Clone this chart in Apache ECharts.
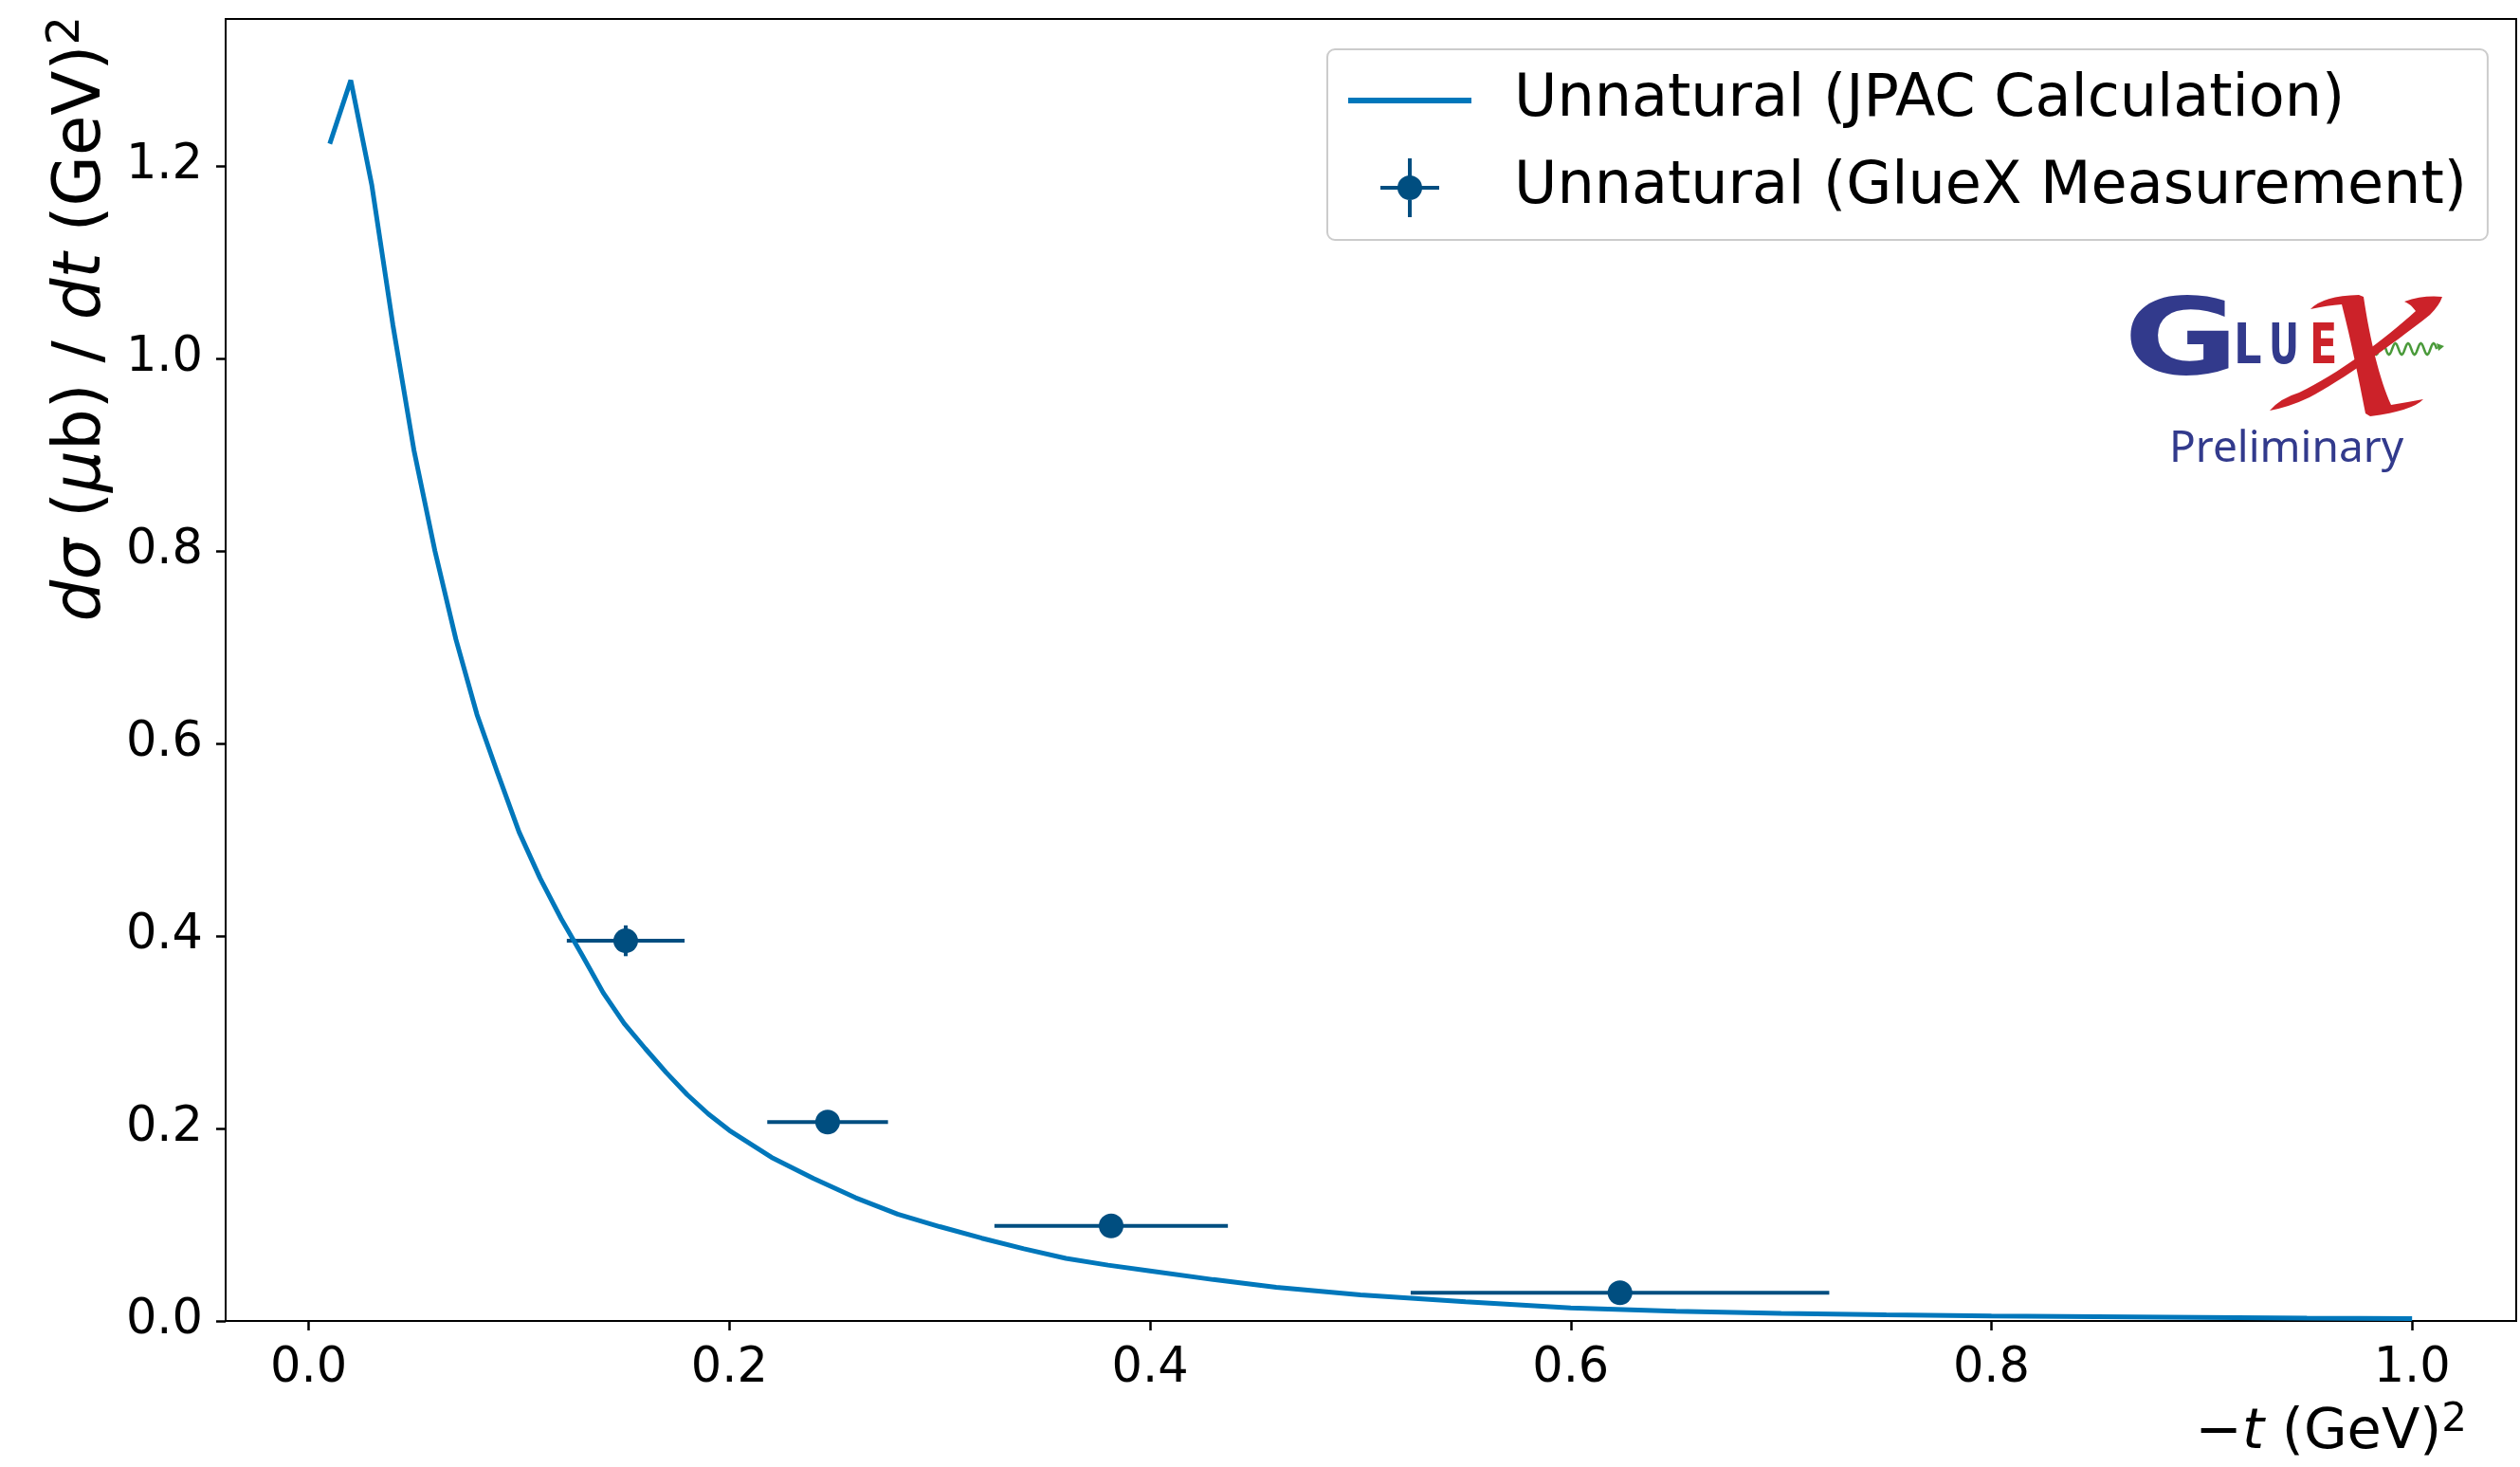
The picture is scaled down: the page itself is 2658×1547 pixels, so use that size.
<!DOCTYPE html>
<html>
<head>
<meta charset="utf-8">
<title>Unnatural cross section</title>
<script src="https://cdn.jsdelivr.net/npm/echarts@6/dist/echarts.min.js"></script>
<style>
  html, body { margin: 0; padding: 0; background: #fff; }
  #chart { width: 2658px; height: 1547px; }
</style>
</head>
<body>
<div id="chart"></div>
<script>
// JPAC calculation (curve), -t vs dsigma/dt
const curveT = [0.01, 0.02, 0.03, 0.04, 0.05, 0.06, 0.07, 0.08, 0.09, 0.10,
  0.11, 0.12, 0.13, 0.14, 0.15, 0.16, 0.17, 0.18, 0.19, 0.20,
  0.22, 0.24, 0.26, 0.28, 0.30, 0.32, 0.34, 0.36, 0.38, 0.40,
  0.43, 0.46, 0.50, 0.55, 0.60, 0.65, 0.70, 0.75, 0.80, 0.85, 0.90, 0.95, 1.00];
const curveXs = [1.223, 1.289, 1.180, 1.035, 0.905, 0.800, 0.708, 0.630, 0.568, 0.508,
  0.460, 0.418, 0.380, 0.341, 0.309, 0.283, 0.258, 0.235, 0.215, 0.198,
  0.170, 0.148, 0.128, 0.111, 0.098, 0.086, 0.075, 0.065, 0.058, 0.052,
  0.043, 0.035, 0.027, 0.020, 0.0135, 0.010, 0.0078, 0.0063, 0.0052, 0.0044, 0.0037, 0.003, 0.0025];

// GlueX measurement points
const ptT = [0.1507, 0.2467, 0.3815, 0.6234];
const ptXs = [0.395, 0.2066, 0.0988, 0.0293];
const ptTerr = [0.028, 0.0287, 0.0555, 0.0995];
const ptXsErr = [0.016, 0.009, 0.006, 0.004];

const xTicks = [0, 0.2, 0.4, 0.6, 0.8, 1.0];
const yTicks = [0, 0.2, 0.4, 0.6, 0.8, 1.0, 1.2];

const lineColor = '#0077bb';
const ptColor = '#004e80';
const font = 'DejaVu Sans';
const navy = '#323a8c';
const red = '#cc2229';

let chart = echarts.init(document.getElementById('chart'));

// little wavy photon line in the logo
let wave = [];
for (let i = 0; i <= 60; i++) {
  wave.push([2503 + i * 1.12, 368 + 6 * Math.sin(i / 60 * Math.PI * 10)]);
}

// the big script X of the logo
const xThick = 'M2437,326 Q2450,312 2488,311 L2493,313 C2500,360 2510,400 2522,427 ' +
  'Q2540,424 2556,421 Q2545,433 2500,439 L2495,436 C2488,400 2480,360 2470,321 Q2455,322 2437,326 Z';
const xThin = 'M2576,313 Q2573,322 2563,332 C2520,366 2470,401 2436,419 Q2415,429 2394,433 ' +
  'Q2405,420 2425,414 C2465,395 2515,358 2548,328 Q2542,320 2536,318 Q2556,311 2576,313 Z';

const option = {
  animation: false,
  backgroundColor: '#fff',
  grid: {
    left: 238, right: 4, top: 20, bottom: 154,
    outerBoundsMode: 'none',
    show: true, borderColor: '#000', borderWidth: 2
  },
  xAxis: {
    type: 'value',
    min: -0.0395, max: 1.0495,
    axisLine: { show: true, onZero: false, lineStyle: { color: '#000', width: 2 } },
    axisTick: { show: true, customValues: xTicks, length: 10, lineStyle: { color: '#000', width: 2.5 } },
    axisLabel: {
      customValues: xTicks, margin: 25,
      fontSize: 51, fontFamily: font, color: '#000',
      formatter: v => v.toFixed(1)
    },
    splitLine: { show: false }
  },
  yAxis: {
    type: 'value',
    min: 0, max: 1.3527,
    axisLine: { show: true, onZero: false, lineStyle: { color: '#000', width: 2 } },
    axisTick: { show: true, customValues: yTicks, length: 10, lineStyle: { color: '#000', width: 2.5 } },
    axisLabel: {
      customValues: yTicks, margin: 24,
      fontSize: 51, fontFamily: font, color: '#000',
      formatter: v => v.toFixed(1)
    },
    splitLine: { show: false }
  },
  legend: {
    orient: 'vertical',
    left: 1400, top: 52,
    padding: [18, 22, 19, 22],
    itemWidth: 130, itemHeight: 62, itemGap: 20,
    backgroundColor: 'rgba(255,255,255,0.8)',
    borderColor: '#cccccc', borderWidth: 2, borderRadius: 8,
    selectedMode: false,
    textStyle: { fontSize: 62, fontFamily: font, color: '#000', lineHeight: 62, padding: [10, 0, 0, 40] },
    data: [
      { name: 'Unnatural (JPAC Calculation)', icon: 'path://M0,0 h130 v6 h-130 Z' },
      { name: 'Unnatural (GlueX Measurement)',
        icon: 'path://M0,29 h62 v4 h-62 Z M29,0 h4 v62 h-4 Z M18,31 a13,13 0 1,1 26,0 a13,13 0 1,1 -26,0 Z' }
    ]
  },
  series: [
    {
      name: 'Unnatural (JPAC Calculation)',
      type: 'line',
      data: curveT.map((t, i) => [t, curveXs[i]]),
      showSymbol: false,
      smooth: false,
      itemStyle: { color: lineColor },
      lineStyle: { color: lineColor, width: 5 }
    },
    {
      name: 'Unnatural (GlueX Measurement)',
      type: 'custom',
      itemStyle: { color: ptColor },
      data: ptT.map((t, i) => [t, ptXs[i], ptTerr[i], ptXsErr[i]]),
      renderItem: function (params, api) {
        let x = api.value(0), y = api.value(1), ex = api.value(2), ey = api.value(3);
        let c = api.coord([x, y]);
        let l = api.coord([x - ex, y]), r = api.coord([x + ex, y]);
        let t = api.coord([x, y + ey]), b = api.coord([x, y - ey]);
        return {
          type: 'group',
          children: [
            { type: 'line', shape: { x1: l[0], y1: l[1], x2: r[0], y2: r[1] }, style: { stroke: ptColor, lineWidth: 4 } },
            { type: 'line', shape: { x1: t[0], y1: t[1], x2: b[0], y2: b[1] }, style: { stroke: ptColor, lineWidth: 4 } },
            { type: 'circle', shape: { cx: c[0], cy: c[1], r: 13 }, style: { fill: ptColor } }
          ]
        };
      }
    }
  ],
  graphic: [
    // axis titles
    {
      type: 'text', x: 2602, y: 1512,
      style: {
        text: '{r|\u2212}{i|t}{r| (GeV)}{s|2}',
        align: 'right', verticalAlign: 'middle',
        rich: {
          r: { fontSize: 59, fontFamily: font, fill: '#000', lineHeight: 70 },
          i: { fontSize: 59, fontFamily: font, fontStyle: 'italic', fill: '#000', lineHeight: 70 },
          s: { fontSize: 42, fontFamily: font, fill: '#000', lineHeight: 42, verticalAlign: 'top' }
        }
      }
    },
    {
      type: 'text', x: 87, y: 17, rotation: Math.PI / 2,
      style: {
        text: '{i|d\u03c3}{r| (}{i|\u03bc}{r|b) / }{i|dt}{r| (GeV)}{s|2}',
        align: 'right', verticalAlign: 'middle',
        rich: {
          r: { fontSize: 69, fontFamily: font, fill: '#000', lineHeight: 80 },
          i: { fontSize: 69, fontFamily: font, fontStyle: 'italic', fill: '#000', lineHeight: 80 },
          s: { fontSize: 48, fontFamily: font, fill: '#000', lineHeight: 48, verticalAlign: 'top' }
        }
      }
    },
    // GlueX logo
    {
      type: 'text', x: 2240, y: 365, scaleX: 1.32,
      style: { text: 'G', fontSize: 112, fontWeight: 'bold', fontFamily: font, fill: navy, align: 'left', verticalAlign: 'middle' }
    },
    {
      type: 'text', x: 2356, y: 368, scaleX: 0.8,
      style: { text: 'L', fontSize: 58, fontWeight: 'bold', fontFamily: font, fill: navy, align: 'left', verticalAlign: 'middle' }
    },
    {
      type: 'text', x: 2393, y: 368, scaleX: 0.68,
      style: { text: 'U', fontSize: 58, fontWeight: 'bold', fontFamily: font, fill: navy, align: 'left', verticalAlign: 'middle' }
    },
    {
      type: 'text', x: 2436, y: 368, scaleX: 0.74,
      style: { text: 'E', fontSize: 58, fontWeight: 'bold', fontFamily: font, fill: red, align: 'left', verticalAlign: 'middle' }
    },
    {
      type: 'polyline',
      shape: { points: wave },
      style: { stroke: '#4a9a3a', lineWidth: 2.5, fill: null }
    },
    {
      type: 'polygon',
      shape: { points: [[2570, 362], [2578, 365], [2572, 370]] },
      style: { fill: '#4a9a3a' }
    },
    {
      type: 'text', x: 2288, y: 474,
      style: { text: 'Preliminary', fontSize: 46, fontFamily: 'Noto Sans', fill: navy, align: 'left', verticalAlign: 'middle' }
    }
  ]
};

chart.setOption(option);

// the X of the logo, added straight onto the canvas
let zr = chart.getZr();
zr.add(echarts.graphic.makePath(xThin, { style: { fill: red }, z: 20 }));
zr.add(echarts.graphic.makePath(xThick, { style: { fill: red }, z: 20 }));
</script>
</body>
</html>
